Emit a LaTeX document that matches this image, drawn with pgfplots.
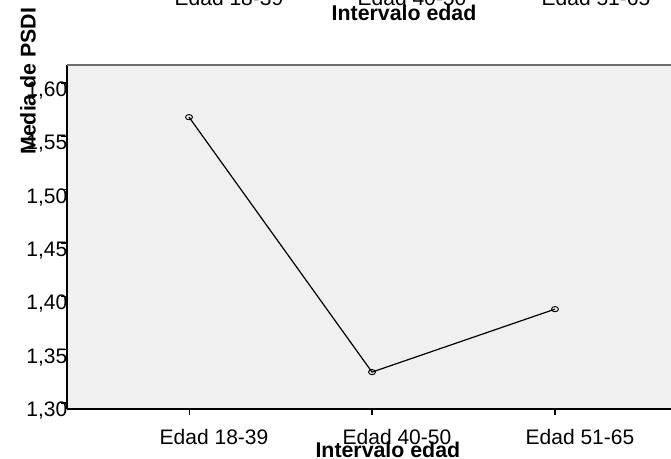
\documentclass[border=0pt]{standalone}
\usepackage{fontspec}
\setmainfont{Liberation Sans}
\usepackage{pgfplots}
\pgfplotsset{compat=1.18}
\definecolor{plotbg}{HTML}{F0F0F0}
\definecolor{topline}{HTML}{6E6E6E}
\newcommand{\lbl}{\fontsize{15.75}{18}\selectfont}
\newcommand{\ttl}{\fontsize{16}{18}\selectfont\bfseries}
\begin{document}
\begin{tikzpicture}[x=0.75pt,y=0.75pt]
\path[use as bounding box, clip] (0,0) rectangle (671,459);

% cut-off copy of the axis labels at the top
\node[anchor=base, font=\lbl] at (229,453) {Edad 18-39};
\node[anchor=base, font=\lbl] at (412,453) {Edad 40-50};
\node[anchor=base, font=\lbl] at (596,453) {Edad 51-65};
\node[anchor=base, font=\ttl] at (404,438) {Intervalo edad};

\begin{axis}[
  at={(50.25pt,37.5pt)}, anchor=south west,
  scale only axis, width=457.5pt, height=258pt,
  xmin=0.333, xmax=3.667,
  ymin=1.2944, ymax=1.6169,
  axis background/.style={fill=plotbg},
  axis x line*=bottom, axis y line*=left,
  axis line style={black, line width=1.1pt, -},
  tick align=outside, major tick length=4.5pt,
  tick style={black, line width=0.8pt},
  xtick={1,2,3},
  xticklabels={Edad 18-39,Edad 40-50,Edad 51-65},
  ytick={1.30,1.35,...,1.61},
  yticklabels={{1,30},{1,35},{1,40},{1,45},{1,50},{1,55},{1,60}},
  ticklabel style={font=\lbl},
  xticklabel style={xshift=18.75pt, yshift=-7pt},
  yticklabel style={anchor=east, xshift=8.25pt, yshift=-5.5pt},
  xlabel={Intervalo edad},
  ylabel={Media de PSDI},
  xlabel style={font=\ttl, at={(rel axis cs:0.526,-0.142)}, anchor=base},
  ylabel style={font=\ttl, at={(rel axis cs:-0.064,0.953)}, anchor=center},
  clip=false,
]
\draw[topline, line width=1.5pt] (rel axis cs:0,1) -- (rel axis cs:1,1);
\addplot[black, line width=0.9pt, mark=o, mark size=2.6pt,
  mark options={line width=0.7pt, yscale=0.75}]
coordinates {(1,1.568) (2,1.329) (3,1.388)};
\end{axis}
\end{tikzpicture}
\end{document}
